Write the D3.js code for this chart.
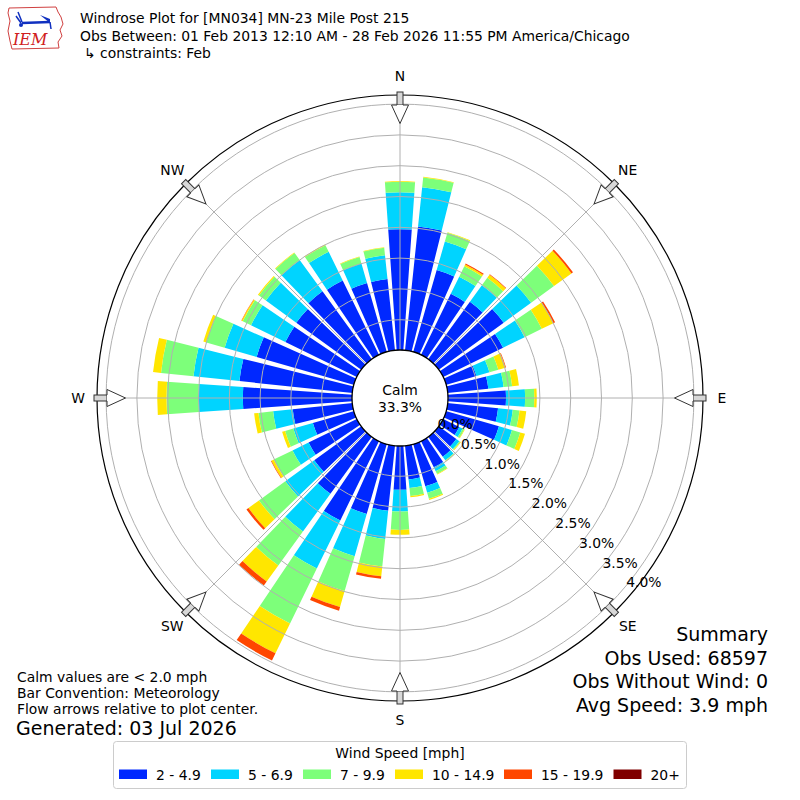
<!DOCTYPE html>
<html>
<head>
<meta charset="utf-8">
<script src="https://cdn.jsdelivr.net/npm/d3@7"></script>
<style>
  body { margin: 0; background: #fff; }
  svg text { font-family: "DejaVu Sans", sans-serif; fill: #000; }
</style>
</head>
<body>
<svg id="chart" width="800" height="800"></svg>
<script>
// ---------------- data (percent of observations) ----------------
const directions = [0,10,20,30,40,50,60,70,80,90,100,110,120,130,140,150,160,170,
                    180,190,200,210,220,230,240,250,260,270,280,290,300,310,320,330,340,350];
const compassLabels = ["N","NE","E","SE","S","SW","W","NW"];
const compassAngles = [0,45,90,135,180,225,270,315];
const speedBins = ["2 - 4.9","5 - 6.9","7 - 9.9","10 - 14.9","15 - 19.9","20+"];
const binColors = ["#0028ff","#00d4ff","#7dff7a","#ffe600","#ff4700","#800000"];
const radialTicks = [0,0.5,1.0,1.5,2.0,2.5,3.0,3.5,4.0];

const spd2to5 = [1.97,2.03,1.39,1.11,1.16,1.31,1.09,0.52,0.67,0.95,0.83,0.90,0.30,0.36,0.41,0.48,0.72,0.56,
                 0.72,1.07,1.19,1.44,1.15,0.95,0.88,0.70,0.98,1.78,1.85,1.65,1.30,1.31,1.37,1.35,1.17,1.17];
const spd5to7 = [0.60,0.64,0.48,0.31,0.33,0.55,0.39,0.22,0.25,0.31,0.24,0.22,0.06,0.06,0.07,0.07,0.11,0.14,
                 0.35,0.46,0.71,0.87,0.76,0.58,0.29,0.33,0.32,0.72,0.75,0.54,0.62,0.61,0.63,0.52,0.33,0.39];
const spd7to10 = [0.17,0.16,0.15,0.19,0.15,0.46,0.31,0.15,0.14,0.15,0.11,0.14,0.03,0.02,0.01,0.05,0.10,0.13,
                  0.30,0.45,0.59,0.99,0.68,0.53,0.34,0.14,0.24,0.52,0.53,0.31,0.15,0.14,0.14,0.12,0.11,0.12];
const spd10to15 = [0.01,0.01,0.01,0.03,0.06,0.35,0.21,0.12,0.11,0.04,0.11,0.08,0.01,0.01,0.01,0.01,0.02,0.02,
                   0.08,0.16,0.27,0.54,0.32,0.21,0.04,0.05,0.07,0.15,0.13,0.05,0.02,0.02,0.01,0.01,0.01,0.01];
const spd15to20 = [0,0,0,0.02,0.01,0.03,0.03,0.01,0,0,0,0,0,0,0,0,0,0,
                   0,0.04,0.06,0.13,0.08,0.04,0.01,0,0,0,0,0,0.005,0,0,0,0,0];
const spd20plus = [0,0,0,0,0,0,0,0,0,0,0,0,0,0,0,0,0,0,
                   0,0,0,0,0,0,0,0,0,0,0,0,0,0,0,0,0,0];
const series = [spd2to5, spd5to7, spd7to10, spd10to15, spd15to20, spd20plus];

const calmPct = "33.3%";
const titleLines = ["Windrose Plot for [MN034] MN-23 Mile Post 215",
                    "Obs Between: 01 Feb 2013 12:10 AM - 28 Feb 2026 11:55 PM America/Chicago"];
const constraintLine = "\u21B3 constraints: Feb";
const noteLines = ["Calm values are < 2.0 mph","Bar Convention: Meteorology","Flow arrows relative to plot center."];
const generated = "Generated: 03 Jul 2026";
const summaryLines = ["Summary","Obs Used: 68597","Obs Without Wind: 0","Avg Speed: 3.9 mph"];

// ---------------- drawing ----------------
const svg = d3.select("#chart");
const cx = 400, cy = 398;
const rOuter = 303, rCalm = 48;
const r = d3.scaleLinear().domain([0, 4]).range([47.5, 293.9]);
const rad = d => d * Math.PI / 180;
const g = svg.append("g").attr("transform", `translate(${cx},${cy})`);

// bars
const halfOpen = 4; // degrees
const arc = d3.arc();
directions.forEach((dir, i) => {
  let cum = 0;
  series.forEach((s, j) => {
    const v = s[i];
    if (v > 0) {
      g.append("path")
        .attr("d", arc({innerRadius: r(cum), outerRadius: r(cum + v),
                        startAngle: rad(dir - halfOpen), endAngle: rad(dir + halfOpen)}))
        .attr("fill", binColors[j]);
    }
    cum += v;
  });
});

// grid rings and spokes
radialTicks.slice(1).forEach(t => {
  g.append("circle").attr("r", r(t)).attr("fill", "none")
    .attr("stroke", "#b0b0b0").attr("stroke-width", 1);
});
compassAngles.forEach(a => {
  g.append("line")
    .attr("x1", r(0) * Math.sin(rad(a))).attr("y1", -r(0) * Math.cos(rad(a)))
    .attr("x2", rOuter * Math.sin(rad(a))).attr("y2", -rOuter * Math.cos(rad(a)))
    .attr("stroke", "#b0b0b0").attr("stroke-width", 1);
});

// calm circle
g.append("circle").attr("r", rCalm).attr("fill", "#fff").attr("stroke", "#000").attr("stroke-width", 1.3);
g.append("text").attr("x", 0).attr("y", -3).attr("text-anchor", "middle").attr("font-size", 13.9).text("Calm");
g.append("text").attr("x", 0).attr("y", 14).attr("text-anchor", "middle").attr("font-size", 13.9).text(calmPct);

// outer circle
g.append("circle").attr("r", rOuter).attr("fill", "none").attr("stroke", "#000").attr("stroke-width", 1.2);

// flow arrows
compassAngles.forEach(a => {
  const ag = g.append("g").attr("transform", `rotate(${a})`);
  ag.append("rect").attr("x", -3).attr("y", -306).attr("width", 6).attr("height", 13)
    .attr("fill", "#d8d8d8").attr("stroke", "#333").attr("stroke-width", 1);
  ag.append("path").attr("d", "M-3,-293 L-8.5,-293 L0,-274.5 L8.5,-293 L3,-293")
    .attr("fill", "#fff").attr("stroke", "#333").attr("stroke-width", 1);
});

// compass labels
compassLabels.forEach((lab, i) => {
  const a = rad(compassAngles[i]);
  g.append("text").attr("x", 322 * Math.sin(a)).attr("y", -322 * Math.cos(a) + 5)
    .attr("text-anchor", "middle").attr("font-size", 13.9).text(lab);
});

// radial tick labels along 130 deg
radialTicks.forEach(t => {
  const a = rad(130);
  g.append("text").attr("x", r(t) * Math.sin(a) + 1).attr("y", -r(t) * Math.cos(a) + 0.5)
    .attr("font-size", 13.9).text(t.toFixed(1) + "%");
});

// title
svg.append("text").attr("x", 80).attr("y", 23).attr("font-size", 13.9).text(titleLines[0]);
svg.append("text").attr("x", 80).attr("y", 41).attr("font-size", 13.9).text(titleLines[1]);
svg.append("text").attr("x", 84).attr("y", 58).attr("font-size", 13.9).text(constraintLine);

// IEM logo (approximation)
const logo = svg.append("g");
logo.append("path")
  .attr("d", "M9,8 L56,7 L58,12 L61,17 L63,24 L60,30 L62,36 L58,42 L59,48 L12,49 L10,41 L8,31 L10,21 L8,13 Z")
  .attr("fill", "#fff").attr("stroke", "#d04040").attr("stroke-width", 1);
logo.append("path").attr("d", "M22,23 L50,22").attr("stroke", "#1030c0").attr("stroke-width", 2.5);
logo.append("path").attr("d", "M40,15 L50,19 L50,23 Z").attr("fill", "#1030c0");
logo.append("path").attr("d", "M18,12 L22,22 M16,16 L21,23").attr("stroke", "#1030c0").attr("stroke-width", 1.5).attr("fill", "none");
logo.append("circle").attr("cx", 21).attr("cy", 25).attr("r", 2).attr("fill", "#1030c0");
logo.append("path").attr("d", "M50,22 L51,29").attr("stroke", "#1030c0").attr("stroke-width", 1.5);
logo.append("text").attr("x", 13).attr("y", 45).attr("font-size", 16)
  .attr("font-style", "italic").style("font-family", "'DejaVu Serif', serif").style("fill", "#d02020").text("IEM");

// notes bottom-left
noteLines.forEach((t, i) => {
  svg.append("text").attr("x", 17).attr("y", 682 + i * 16).attr("font-size", 13.9).text(t);
});
svg.append("text").attr("x", 16).attr("y", 735).attr("font-size", 19).text(generated);

// summary bottom-right
summaryLines.forEach((t, i) => {
  svg.append("text").attr("x", 768).attr("y", 641 + i * 23.5).attr("text-anchor", "end")
    .attr("font-size", 19).text(t);
});

// legend
const lg = svg.append("g");
lg.append("rect").attr("x", 113.5).attr("y", 741.5).attr("width", 573).attr("height", 47).attr("rx", 3)
  .attr("fill", "#fff").attr("stroke", "#cccccc").attr("stroke-width", 1);
lg.append("text").attr("x", 400).attr("y", 758).attr("text-anchor", "middle").attr("font-size", 13.9).text("Wind Speed [mph]");
const patchX = [119, 211, 303, 395, 504, 613.5];
speedBins.forEach((b, j) => {
  lg.append("rect").attr("x", patchX[j]).attr("y", 769.5).attr("width", 28).attr("height", 9.5).attr("fill", binColors[j]);
  lg.append("text").attr("x", patchX[j] + 37).attr("y", 779.5).attr("font-size", 13.9).text(b);
});
</script>
</body>
</html>
